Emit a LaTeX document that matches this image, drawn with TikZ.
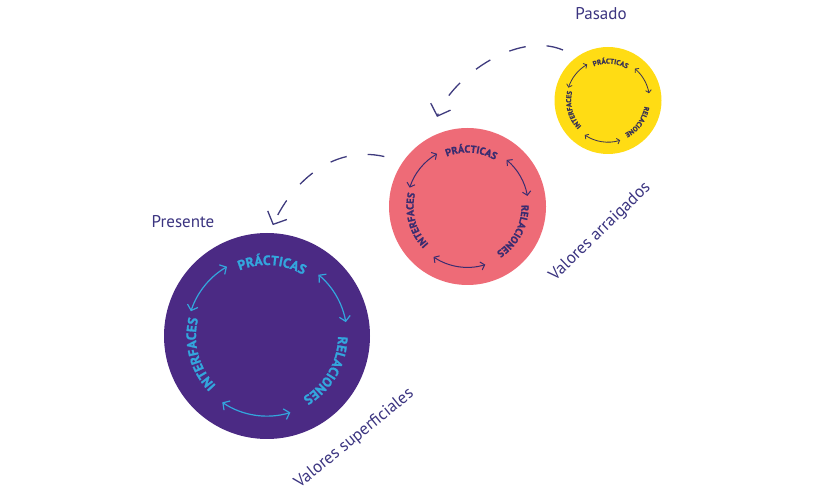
\documentclass[tikz,border=0pt]{standalone}
\usepackage{fontspec}
\setmainfont{PT Sans}
\newfontfamily\ringfont{PT Sans}[UprightFont=* Bold, FakeBold=1.2]
\usetikzlibrary{arrows.meta,decorations.text,calc}
\definecolor{purp}{HTML}{4B2A84}
\definecolor{cyanl}{HTML}{33A6DD}
\definecolor{coral}{HTML}{EE6B77}
\definecolor{yel}{HTML}{FFDC14}
\definecolor{ink}{HTML}{3B3480}
\definecolor{redink}{HTML}{3A2C70}
\definecolor{yelink}{HTML}{3A3354}
\definecolor{dashcol}{HTML}{3F3B7E}
\tikzset{
  disc/.style={circle, inner sep=0pt, draw=none},
  lbl/.style={text=ink, font=\fontsize{17}{20}\selectfont},
  dasharrow/.style={draw=dashcol, line width=1.3pt, dash pattern=on 17pt off 21pt,
    -{Straight Barb[length=10pt,width=21pt]}},
}
% #1 node, #2 scale, #3 colour, #4 font size, #5 third label, #6 line width, #7 angle of third label
\newcommand\ringset[7]{%
\begin{scope}[shift={(#1.center)}]
\pgfmathsetmacro\rr{80*#2}
\pgfmathsetmacro\rt{71*#2}
\tikzset{ringarr/.style={draw=#3, line width=#6pt,
  {Straight Barb[length=5pt,width=11pt,scale=#2]}-{Straight Barb[length=5pt,width=11pt,scale=#2]}}}
\draw[ringarr] (162:\rr) arc[start angle=162, end angle=120, radius=\rr];
\draw[ringarr] (50:\rr) arc[start angle=50, end angle=10, radius=\rr];
\draw[ringarr] (236:\rr) arc[start angle=236, end angle=287, radius=\rr];
\path[decorate, decoration={text along path, text align=center,
  text={|\ringfont\fontsize{#4}{#4}\selectfont\color{#3}|PRÁCTICAS}}]
  (131:\rt) arc[start angle=131, end angle=41, radius=\rt];
\pgfmathsetmacro\aa{#7+45}
\pgfmathsetmacro\ab{#7-45}
\path[decorate, decoration={text along path, text align=center,
  text={|\ringfont\fontsize{#4}{#4}\selectfont\color{#3}|#5}}]
  (\aa:\rt) arc[start angle=\aa, end angle=\ab, radius=\rt];
\path[decorate, decoration={text along path, text align=center,
  text={|\ringfont\fontsize{#4}{#4}\selectfont\color{#3}|INTERFACES}}]
  (240:\rt) arc[start angle=240, end angle=150, radius=\rt];
\end{scope}}
\begin{document}
\begin{tikzpicture}[x=1pt,y=1pt]
\useasboundingbox (0,0) rectangle (813,503);
% discs
\node[disc, fill=purp, minimum size=206pt] (pres) at (267,167) {};
\node[disc, fill=coral, minimum size=157pt] (rojo) at (467.5,296.5) {};
\node[disc, fill=yel, minimum size=107pt] (pas) at (608,402.5) {};
% inner rings
\ringset{pres}{1}{cyanl}{13.5}{RELACIONES}{1.2}{-30}
\ringset{rojo}{0.76}{redink}{10.2}{RELACIONES}{1.0}{-28}
\ringset{pas}{0.52}{yelink}{7}{RELACIONE}{0.8}{-36}
% labels
\node[lbl] (lpas) at (601,489) {Pasado};
\node[lbl] (lpres) at (183,281) {Presente};
\node[lbl, anchor=base, rotate=39] (lsup) at (357,61) {Valores superficiales};
\node[lbl, anchor=base, rotate=44] (larr) at (603,268) {Valores arraigados};
% dashed connectors
\coordinate (s1) at ($(rojo.center)+(149:97)$);
\coordinate (e1) at ($(pres.center)+(87:111)$);
\coordinate (s2) at ($(pas.center)+(131.7:67.6)$);
\coordinate (e2) at ($(rojo.center)+(108.8:94.6)$);
\draw[dasharrow] (s1) .. controls +(-54,12) and +(18,40) .. (e1);
\draw[dasharrow] (s2) .. controls +(-48,20) and +(13,37) .. (e2);
\end{tikzpicture}
\end{document}
